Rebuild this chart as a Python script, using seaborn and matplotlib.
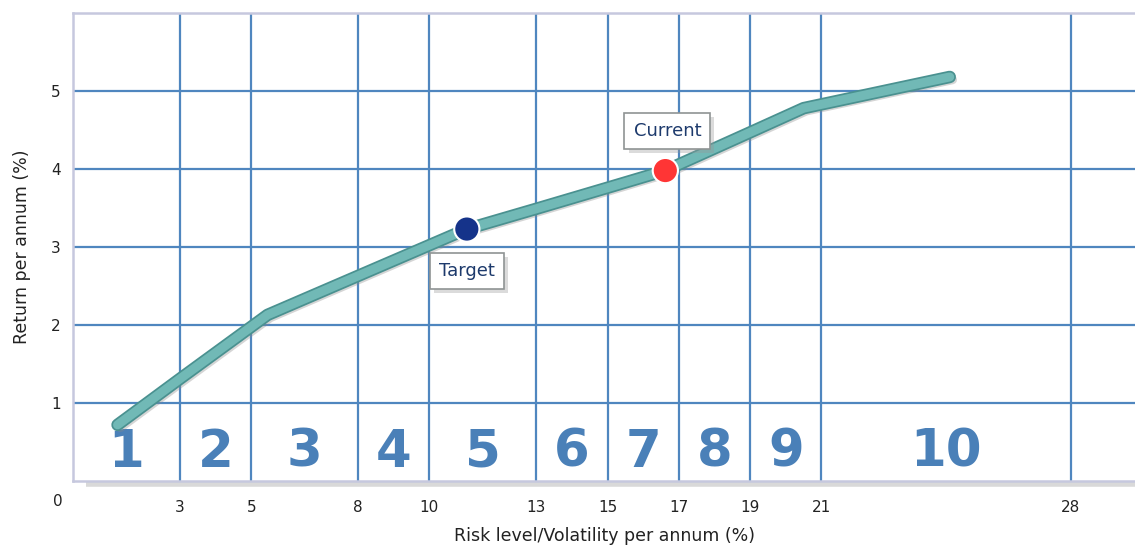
import matplotlib
matplotlib.use("Agg")
import matplotlib.pyplot as plt
import matplotlib.patheffects as pe
import seaborn as sns
import pandas as pd

# Efficient frontier: volatility (%) vs expected return (%)
risk = [1.25, 3.0, 5.46, 8.0, 11.05, 13.0, 15.0, 16.62, 19.0, 20.5, 24.6]
ret = [0.72, 1.31, 2.13, 2.63, 3.23, 3.49, 3.76, 3.98, 4.47, 4.78, 5.18]

# Portfolio positions on the frontier
point_names = ["Target", "Current"]
point_risk = [11.05, 16.62]
point_ret = [3.23, 3.98]
point_colors = ["#15338a", "#ff3535"]

# Risk bands and their boundaries
band_edges = [0, 3, 5, 8, 10, 13, 15, 17, 19, 21, 28]
band_labels = ["1", "2", "3", "4", "5", "6", "7", "8", "9", "10"]
y_ticks = [1, 2, 3, 4, 5]

sns.set_style("white")
plt.rcParams["font.family"] = ["DejaVu Sans"]

fig = plt.figure(figsize=(11.35, 5.45), dpi=100)
ax = fig.add_axes([73 / 1135, 64 / 545, 1 - 73 / 1135, (481 - 13) / 545])

grid_color = "#4f86bf"
frame_color = "#c6c8de"

ax.set_xlim(0, (1135 - 73) / 35.64)
ax.set_ylim(0, 6)

# grid
for x in band_edges[1:]:
    ax.axvline(x, color=grid_color, lw=1.6, zorder=1)
for y in y_ticks:
    ax.axhline(y, color=grid_color, lw=1.6, zorder=1)

ax.spines["right"].set_visible(False)
for side in ["left", "top", "bottom"]:
    ax.spines[side].set_color(frame_color)
    ax.spines[side].set_linewidth(1.8)

# soft shadow under the bottom frame
ax.plot([0.012, 1.0], [-0.007, -0.007], transform=ax.transAxes, color="#d9d9d9",
        lw=4, clip_on=False, zorder=0, solid_capstyle="butt")

# band numbers
for i, lab in enumerate(band_labels):
    xc = (band_edges[i] + band_edges[i + 1]) / 2
    ax.text(xc, 0.36, lab, ha="center", va="center", fontsize=37, fontweight="bold",
            family=["DejaVu Sans Condensed", "DejaVu Sans"], color="#4a80b8", zorder=2)

# frontier line
df = pd.DataFrame({"risk": risk, "ret": ret})
sns.lineplot(data=df, x="risk", y="ret", sort=False, ax=ax, color="#71b9b6", lw=6.5,
             zorder=4, solid_capstyle="round", solid_joinstyle="round")
line = ax.lines[-1]
line.set_path_effects([
    pe.SimpleLineShadow(offset=(2, -2), shadow_color="#888888", alpha=0.35),
    pe.Stroke(linewidth=9, foreground="#4a9190"),
    pe.Normal(),
])

# portfolio markers
pts = pd.DataFrame({"risk": point_risk, "ret": point_ret, "name": point_names})
sns.scatterplot(data=pts, x="risk", y="ret", hue="name", palette=dict(zip(point_names, point_colors)),
                s=330, edgecolor="white", linewidth=1.5, zorder=6, legend=False, ax=ax)

# callout boxes
offsets = {"Target": (0, -42), "Current": (2, 40)}
for name, xv, yv in zip(point_names, point_risk, point_ret):
    dx, dy = offsets[name]
    t = ax.annotate(name, (xv, yv), xytext=(dx * 0.72, dy * 0.72), textcoords="offset points",
                    ha="center", va="center", fontsize=13, color="#1d3a6c", zorder=7,
                    bbox=dict(boxstyle="square,pad=0.5", fc="white", ec="#8f9494", lw=1.2))
    t.get_bbox_patch().set_path_effects([
        pe.SimplePatchShadow(offset=(3, -3), shadow_rgbFace="#999999", alpha=0.35),
        pe.Normal(),
    ])

# ticks
ax.set_xticks(band_edges[1:])
ax.set_xticklabels([str(v) for v in band_edges[1:]])
ax.set_yticks(y_ticks)
ax.set_yticklabels([str(v) for v in y_ticks])
ax.tick_params(axis="both", length=0, labelsize=11, colors="#222222")
ax.tick_params(axis="x", pad=14)
ax.tick_params(axis="y", pad=9)
ax.text(-15 / 35.64, -21 / 78.25, "0", ha="center", va="center", fontsize=11,
        color="#222222", clip_on=False)

ax.set_xlabel("Risk level/Volatility per annum (%)", fontsize=12.5, color="#222222", labelpad=8)
ax.set_ylabel("Return per annum (%)", fontsize=12.5, color="#222222", labelpad=14)

fig.savefig("out.png", dpi=100)
